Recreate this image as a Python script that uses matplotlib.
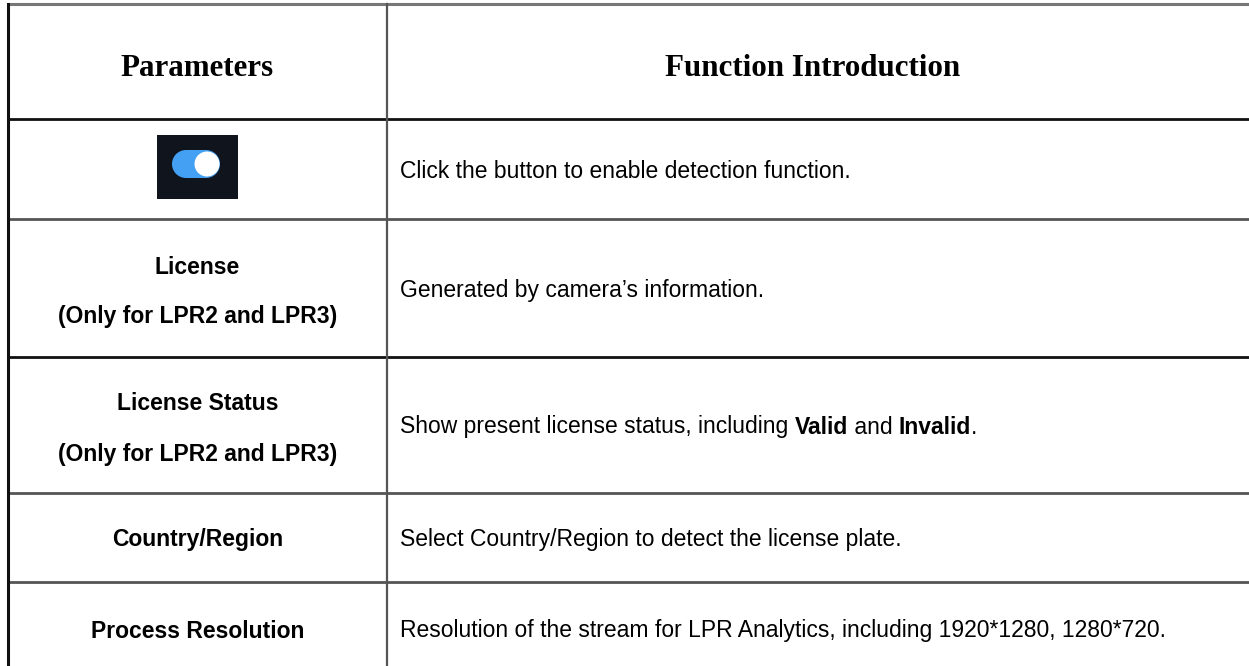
import matplotlib
matplotlib.use("Agg")
import matplotlib.pyplot as plt
from matplotlib.patches import Rectangle, Circle

# ---- data ----
header_labels = ["Parameters", "Function Introduction"]
param_labels = [
    [],
    ["License", "(Only for LPR2 and LPR3)"],
    ["License Status", "(Only for LPR2 and LPR3)"],
    ["Country/Region"],
    ["Process Resolution"],
]
# descriptions: list of (text, bold) segments
descriptions = [
    [("Click the button to enable detection function.", False)],
    [("Generated by camera\u2019s information.", False)],
    [("Show present license status, including ", False), ("Valid", True),
     (" and ", False), ("Invalid", True), (".", False)],
    [("Select Country/Region to detect the license plate.", False)],
    [("Resolution of the stream for LPR Analytics, including 1920*1280, 1280*720.", False)],
]
# row boundaries (pixels from top)
row_edges = [4, 119, 219, 357, 493, 582, 700]
row_line_colors = ["#777777", "#111111", "#555555", "#111111", "#555555", "#555555"]
col_left, col_div, col_right = 8, 387, 1260

W, H = 1249, 666
fig = plt.figure(figsize=(W / 100, H / 100), dpi=100)
ax = fig.add_axes([0, 0, 1, 1])
ax.set_xlim(0, W)
ax.set_ylim(H, 0)
ax.axis("off")

# horizontal lines
for y, c in zip(row_edges[:-1], row_line_colors):
    ax.plot([col_left, col_right], [y, y], color=c, lw=2.2 if y == 4 else 2.0,
            solid_capstyle="butt")
# vertical lines
ax.plot([col_left, col_left], [row_edges[0], H + 5], color="#111111", lw=2.2)
ax.plot([col_div, col_div], [row_edges[0], H + 5], color="#555555", lw=1.6)

# header
xc_left = (col_left + col_div) / 2
hy = 68
ax.text(xc_left, hy, header_labels[0], ha="center", va="center",
        family="Liberation Serif", weight="bold", fontsize=22.3, color="black")
ax.text(813, hy, header_labels[1], ha="center", va="center",
        family="Liberation Serif", weight="bold", fontsize=22.3, color="black")

# toggle icon in first row
ax.add_patch(Rectangle((157, 135), 81, 64, facecolor="#10151d", edgecolor="none"))
ax.add_patch(Rectangle((186, 150), 20, 28, facecolor="#43a0f2", edgecolor="none"))
ax.add_patch(Circle((186, 164), 14, facecolor="#43a0f2", edgecolor="none"))
ax.add_patch(Circle((206, 164), 14, facecolor="#43a0f2", edgecolor="none"))
ax.add_patch(Circle((207, 164), 12.5, facecolor="white", edgecolor="none"))

fig.canvas.draw()
renderer = fig.canvas.get_renderer()

body_fs = 16.5
for i in range(len(descriptions)):
    top, bot = row_edges[i + 1], row_edges[i + 2]
    if i == len(descriptions) - 1:
        bot = 676
    yc = (top + bot) / 2 + 2
    labels = param_labels[i]
    if len(labels) == 2:
        ys = [yc - 23, yc + 27]
    else:
        ys = [yc]
    for lab, y in zip(labels, ys):
        ax.text(xc_left, y, lab, ha="center", va="center", family="Liberation Sans",
                weight="bold", fontsize=body_fs, color="black")
    # description
    x = 400
    for seg, bold in descriptions[i]:
        t = ax.text(x, yc, seg, ha="left", va="center", family="Liberation Sans",
                    weight="bold" if bold else "normal", fontsize=body_fs, color="black")
        bb = t.get_window_extent(renderer=renderer)
        x += bb.width

fig.savefig("out.png", dpi=100)
